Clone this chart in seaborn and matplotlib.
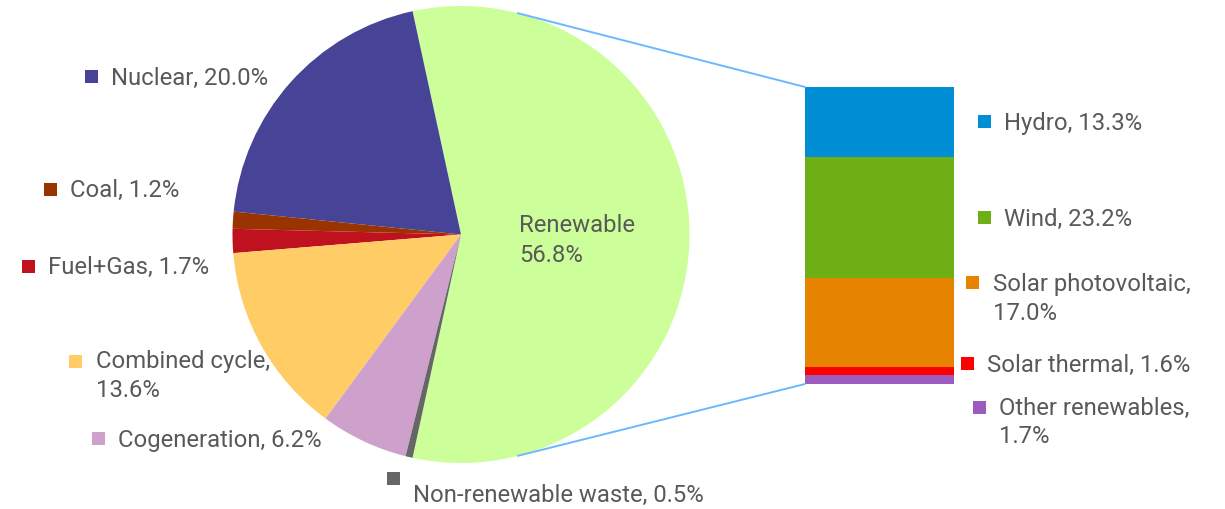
import numpy as np
import matplotlib
matplotlib.use("Agg")
import matplotlib.pyplot as plt
from matplotlib.patches import Rectangle, ConnectionPatch
import seaborn as sns

# Data: electricity generation mix (%)
pie_labels = ["Renewable", "Nuclear", "Coal", "Fuel+Gas", "Combined cycle",
              "Cogeneration", "Non-renewable waste"]
pie_values = [56.8, 20.0, 1.2, 1.7, 13.6, 6.2, 0.5]
pie_colors = ["#ccff99", "#474396", "#993300", "#c0111f", "#ffcc66",
              "#cda1cc", "#666666"]

bar_labels = ["Other renewables", "Solar thermal", "Solar photovoltaic", "Wind", "Hydro"]
bar_values = [1.7, 1.6, 17.0, 23.2, 13.3]
bar_colors = ["#9b5cbd", "#ff0000", "#e68300", "#6eaf16", "#008fd4"]

sns.set_theme(style="white")
plt.rcParams["font.family"] = ["Roboto", "DejaVu Sans"]
TXT = "#595959"
FS = 17.2

W, H = 1225, 509
fig = plt.figure(figsize=(W / 100, H / 100), dpi=100)
ax = fig.add_axes([0, 0, 1, 1])

# pie, renewable slice centred on the right-hand side
cx, cy, r = 461, H - 234.5, 228.5
ax.pie(pie_values, colors=pie_colors, startangle=-pie_values[0] / 100 * 180,
       counterclock=True, center=(cx, cy), radius=r,
       wedgeprops=dict(linewidth=0))
ax.set_xlim(0, W)
ax.set_ylim(0, H)
ax.set_aspect("auto")
ax.axis("off")

# stacked bar for the renewable breakdown
axb = fig.add_axes([805 / W, (H - 384) / H, 149 / W, 297 / H])
cum = np.cumsum(bar_values)
for i in range(len(bar_values) - 1, -1, -1):
    sns.barplot(x=[0], y=[cum[i]], color=bar_colors[i], saturation=1,
                width=0.8, linewidth=0, ax=axb)
axb.set_xlim(-0.4, 0.4)
axb.set_ylim(0, cum[-1])
axb.axis("off")

# connector lines
theta = np.deg2rad(75.6)
for sign, yb in [(1, cum[-1]), (-1, 0)]:
    px, py = cx + r * np.cos(theta), cy + sign * r * np.sin(theta)
    con = ConnectionPatch(xyA=(px, py), coordsA=ax.transData,
                          xyB=(-0.4, yb), coordsB=axb.transData,
                          color="#6cb8ff", linewidth=1.4)
    fig.add_artist(con)


def label(sq_x, sq_yc, tx, baseline, lines, color, gap=28.4):
    ax.add_patch(Rectangle((sq_x, H - sq_yc - 6.5), 13, 13, color=color, lw=0))
    for k, line in enumerate(lines):
        ax.text(tx, H - (baseline + k * gap), line, fontsize=FS, color=TXT,
                ha="left", va="baseline")


label(85, 76.7, 111, 85, ["Nuclear, 20.0%"], pie_colors[1])
label(44, 189, 70, 196.7, ["Coal, 1.2%"], pie_colors[2])
label(22.3, 266.7, 48.3, 274, ["Fuel+Gas, 1.7%"], pie_colors[3])
label(69.3, 361, 96, 368.3, ["Combined cycle,", "13.6%"], pie_colors[4])
label(91.7, 438.3, 117.7, 446.7, ["Cogeneration, 6.2%"], pie_colors[5])
label(387, 478.3, 413.3, 501.7, ["Non-renewable waste, 0.5%"], pie_colors[6])

label(978, 121.3, 1004, 130, ["Hydro, 13.3%"], bar_colors[4])
label(978, 217.8, 1004, 225.7, ["Wind, 23.2%"], bar_colors[3])
label(966, 282.8, 992.7, 291.5, ["Solar photovoltaic,", "17.0%"], bar_colors[2])
label(961, 363.5, 986.7, 371.7, ["Solar thermal, 1.6%"], bar_colors[1])
label(973, 407.8, 999, 415, ["Other renewables,", "1.7%"], bar_colors[0])

for k, line in enumerate(["Renewable", "56.8%"]):
    ax.text(519.3, H - (232.3 + k * 29.8), line, fontsize=FS, color=TXT,
            ha="left", va="baseline")

fig.savefig("out.png", dpi=100)
